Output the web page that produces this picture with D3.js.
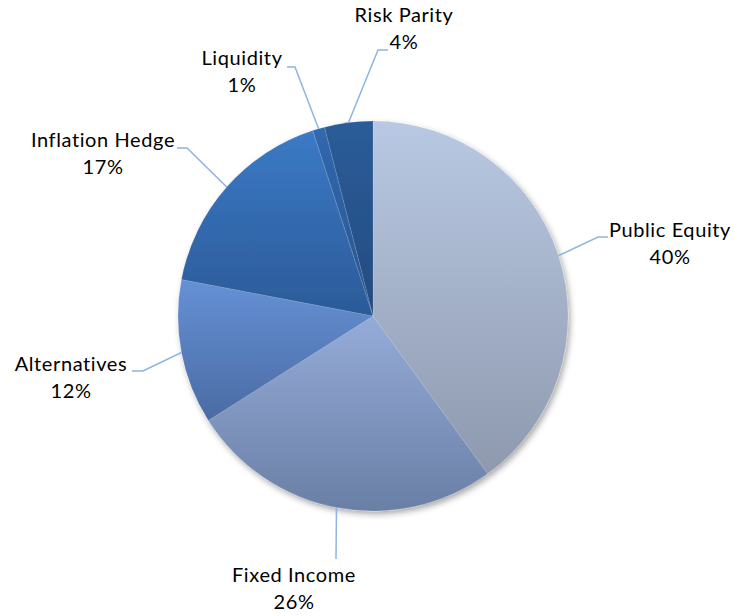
<!DOCTYPE html>
<html>
<head>
<meta charset="utf-8">
<script src="https://cdn.jsdelivr.net/npm/d3@7"></script>
<style>
  body { margin: 0; background: #fff; }
</style>
</head>
<body>
<div id="chart"></div>
<script>
// data
const categories = ["Public Equity", "Fixed Income", "Alternatives", "Inflation Hedge", "Liquidity", "Risk Parity"];
const values = [40, 26, 12, 17, 1, 4];
const percentLabels = ["40%", "26%", "12%", "17%", "1%", "4%"];

// slice gradient colours (top -> bottom)
const topColors = ["#b9c9e3", "#95acd9", "#6591d5", "#3b7ac6", "#3068ad", "#2b5c99"];
const bottomColors = ["#8e99ae", "#6a7fa5", "#4a6ba3", "#2b5a98", "#2a5590", "#244b80"];

const width = 735, height = 616;
const cx = 373, cy = 316, radius = 195;

// label placement: text centre x, first baseline y, elbow point, end of the short horizontal
const labelLayout = [
    {tx: 670, ty: 237, ex: 598, ey: 237, hx: 608},
    {tx: 294, ty: 582, ex: 336, ey: 559, hx: 336},
    {tx: 71,  ty: 371, ex: 143, ey: 371, hx: 132},
    {tx: 103, ty: 147, ex: 187, ey: 148, hx: 177},
    {tx: 242, ty: 65,  ex: 295, ey: 67,  hx: 287},
    {tx: 404, ty: 22,  ex: 378, ey: 50,  hx: 388}
];

const svg = d3.select("#chart")
    .append("svg")
    .attr("width", width)
    .attr("height", height);

const defs = svg.append("defs");

const shadow = defs.append("filter")
    .attr("id", "shadow")
    .attr("x", "-20%").attr("y", "-20%")
    .attr("width", "140%").attr("height", "140%");
shadow.append("feDropShadow")
    .attr("dx", 2).attr("dy", 3)
    .attr("stdDeviation", 3)
    .attr("flood-color", "#000")
    .attr("flood-opacity", 0.35);

categories.forEach((c, i) => {
    const g = defs.append("linearGradient")
        .attr("id", "grad" + i)
        .attr("x1", 0).attr("y1", 0)
        .attr("x2", 0).attr("y2", 1);
    g.append("stop").attr("offset", "0%").attr("stop-color", topColors[i]);
    g.append("stop").attr("offset", "100%").attr("stop-color", bottomColors[i]);
});

const data = categories.map((c, i) => ({name: c, value: values[i], pct: percentLabels[i], idx: i}));

const pie = d3.pie()
    .value(d => d.value)
    .sort(null);

const arc = d3.arc()
    .innerRadius(0)
    .outerRadius(radius);

const arcs = pie(data);

const pieG = svg.append("g")
    .attr("transform", `translate(${cx},${cy})`)
    .attr("filter", "url(#shadow)");

pieG.selectAll("path")
    .data(arcs)
    .enter()
    .append("path")
    .attr("d", arc)
    .attr("fill", d => `url(#grad${d.data.idx})`)
    .attr("stroke", "#ffffff")
    .attr("stroke-opacity", 0.2)
    .attr("stroke-width", 0.6);

// leader lines
svg.append("g")
    .selectAll("polyline")
    .data(arcs)
    .enter()
    .append("polyline")
    .attr("points", d => {
        const a = (d.startAngle + d.endAngle) / 2;
        const sx = cx + radius * Math.sin(a);
        const sy = cy - radius * Math.cos(a);
        const L = labelLayout[d.data.idx];
        return `${sx},${sy} ${L.ex},${L.ey} ${L.hx},${L.ey}`;
    })
    .attr("fill", "none")
    .attr("stroke", "#8db4e2")
    .attr("stroke-width", 1.5);

// labels
const labels = svg.append("g")
    .selectAll("text")
    .data(arcs)
    .enter()
    .append("text")
    .attr("text-anchor", "middle")
    .style("font-family", "Lato, 'Open Sans', sans-serif")
    .style("font-size", "20px")
    .style("letter-spacing", "0.6px")
    .style("font-variant-ligatures", "none")
    .attr("fill", "#000");

labels.append("tspan")
    .attr("x", d => labelLayout[d.data.idx].tx)
    .attr("y", d => labelLayout[d.data.idx].ty)
    .text(d => d.data.name);

labels.append("tspan")
    .attr("x", d => labelLayout[d.data.idx].tx)
    .attr("y", d => labelLayout[d.data.idx].ty + 27)
    .text(d => d.data.pct);
</script>
</body>
</html>
